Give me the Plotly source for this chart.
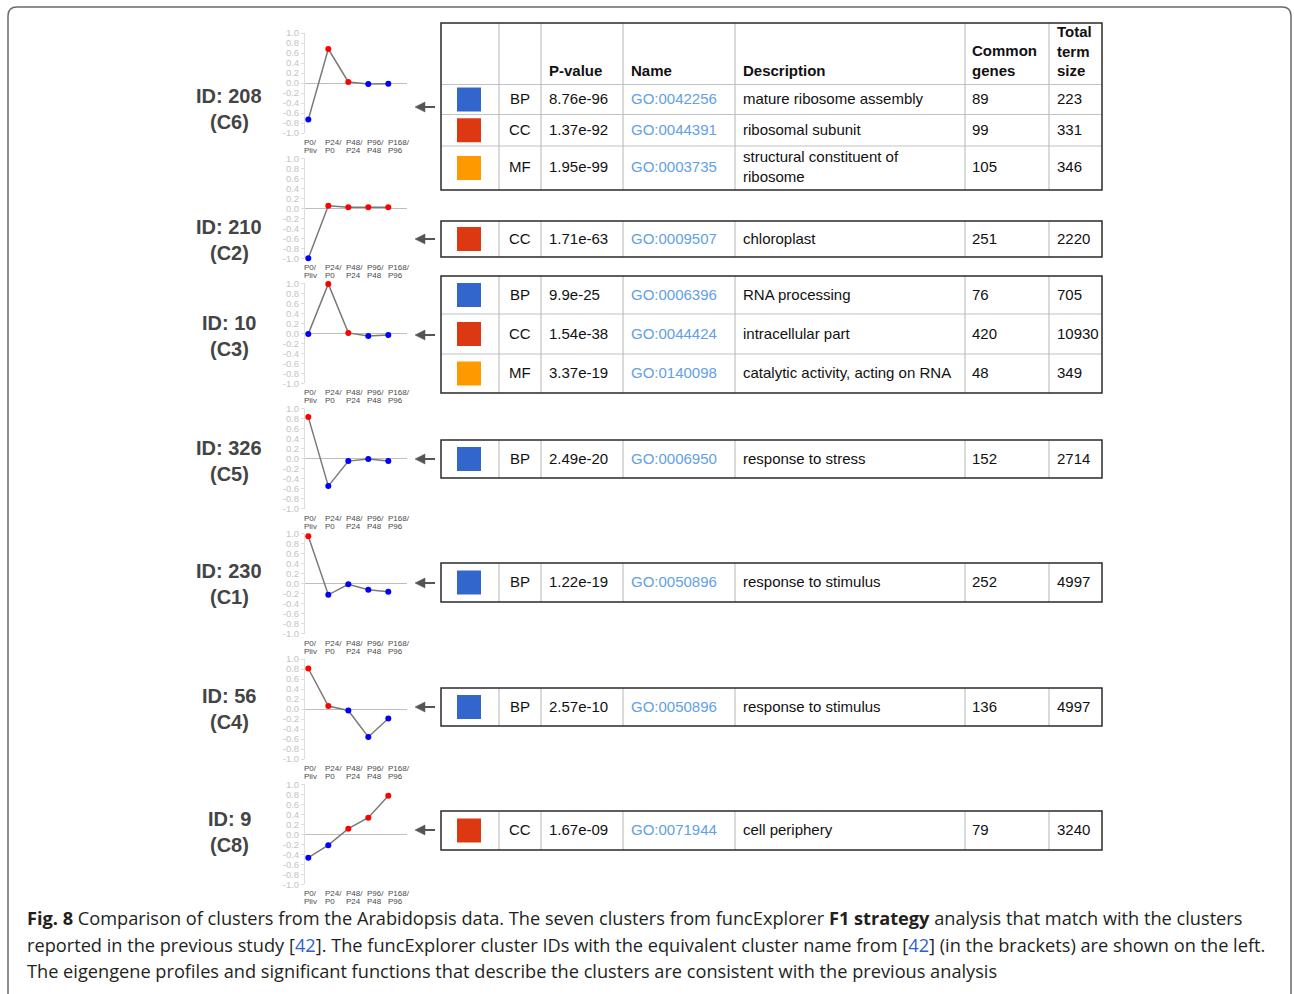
import plotly.graph_objects as go

# ---------------- data ----------------
cluster_ids = ["ID: 208", "ID: 210", "ID: 10", "ID: 326", "ID: 230", "ID: 56", "ID: 9"]
cluster_names = ["(C6)", "(C2)", "(C3)", "(C5)", "(C1)", "(C4)", "(C8)"]

time_top = ["P0/", "P24/", "P48/", "P96/", "P168/"]
time_bottom = ["Pliv", "P0", "P24", "P48", "P96"]

# eigengene profiles, one per cluster
profile_208 = [-0.73, 0.68, 0.02, -0.02, -0.015]
profile_210 = [-1.0, 0.05, 0.02, 0.02, 0.02]
profile_10 = [-0.01, 0.99, 0.01, -0.05, -0.03]
profile_326 = [0.83, -0.55, -0.05, -0.01, -0.05]
profile_230 = [0.95, -0.22, -0.01, -0.12, -0.16]
profile_56 = [0.81, 0.06, -0.03, -0.56, -0.19]
profile_9 = [-0.47, -0.22, 0.11, 0.33, 0.77]
profiles = [profile_208, profile_210, profile_10, profile_326, profile_230, profile_56, profile_9]

y_ticks = [1.0, 0.8, 0.6, 0.4, 0.2, 0.0, -0.2, -0.4, -0.6, -0.8, -1.0]

# enriched GO terms (row -> cluster index)
row_cluster = [0, 0, 0, 1, 2, 2, 2, 3, 4, 5, 6]
row_source = ["BP", "CC", "MF", "CC", "BP", "CC", "MF", "BP", "BP", "BP", "CC"]
row_pvalue = ["8.76e-96", "1.37e-92", "1.95e-99", "1.71e-63", "9.9e-25", "1.54e-38",
              "3.37e-19", "2.49e-20", "1.22e-19", "2.57e-10", "1.67e-09"]
row_term = ["GO:0042256", "GO:0044391", "GO:0003735", "GO:0009507", "GO:0006396",
            "GO:0044424", "GO:0140098", "GO:0006950", "GO:0050896", "GO:0050896",
            "GO:0071944"]
row_desc = ["mature ribosome assembly", "ribosomal subunit",
            "structural constituent of<br>ribosome", "chloroplast", "RNA processing",
            "intracellular part", "catalytic activity, acting on RNA",
            "response to stress", "response to stimulus", "response to stimulus",
            "cell periphery"]
row_common = [89, 99, 105, 251, 76, 420, 48, 152, 252, 136, 79]
row_total = [223, 331, 346, 2220, 705, 10930, 349, 2714, 4997, 4997, 3240]

header_labels = ["P-value", "Name", "Description", "Common<br>genes", "Total<br>term<br>size"]

source_colors = {"BP": "#3366cc", "CC": "#dc3912", "MF": "#ff9900"}

caption_lines = [
    "<b>Fig. 8</b> Comparison of clusters from the Arabidopsis data. The seven clusters from "
    "funcExplorer <b>F1 strategy</b> analysis that match with the clusters",
    "reported in the previous study [<span style='color:#2f5fd0'>42</span>]. The funcExplorer "
    "cluster IDs with the equivalent cluster name from [<span style='color:#2f5fd0'>42</span>] "
    "(in the brackets) are shown on the left.",
    "The eigengene profiles and significant functions that describe the clusters are "
    "consistent with the previous analysis",
]

# ---------------- layout helpers (pixel -> paper) ----------------
W, H = 1294, 994


def X(p):
    return p / W


def Y(p):
    return 1 - p / H


FONT = "Liberation Sans, Arial, Helvetica, sans-serif"
CAPTION_FONT = "Open Sans, sans-serif"

fig = go.Figure()
shapes = []
annotations = []

# ---------------- mini profile charts ----------------
chart_top = 33.0
chart_step = 125.2
chart_h = 100.0
x_left, x_right = 305, 407

for i, vals in enumerate(profiles):
    n = "" if i == 0 else str(i + 1)
    top = chart_top + i * chart_step
    bottom = top + chart_h
    colors = ["#ff0000" if v > 0 else "#0000ff" for v in vals]
    fig.add_trace(go.Scatter(
        x=list(range(len(vals))), y=vals, mode="lines+markers",
        line=dict(color="#7a7a7a", width=1.5),
        marker=dict(color=colors, size=6),
        xaxis="x" + n, yaxis="y" + n, cliponaxis=False,
        showlegend=False, hoverinfo="skip",
    ))
    fig.update_layout(**{
        "xaxis" + n: dict(domain=[X(x_left), X(x_right)], range=[-0.165, 4.935],
                          anchor="y" + n, visible=False, fixedrange=True,
                          automargin=False),
        "yaxis" + n: dict(domain=[Y(bottom), Y(top)], range=[-1.0, 1.0],
                          anchor="x" + n, tickvals=y_ticks,
                          ticktext=[f"{t:.1f}" for t in y_ticks],
                          tickfont=dict(family=FONT, size=9.5, color="#c4c4c4"),
                          ticks="outside", ticklen=3, tickcolor="#dddddd",
                          showline=True, linecolor="#dddddd", linewidth=1,
                          showgrid=False, zeroline=True, zerolinecolor="#bdbdbd",
                          zerolinewidth=1, fixedrange=True, automargin=False),
    })
    # time-point labels under each chart
    for j in range(len(time_top)):
        lx = 302 + 21.1 * j
        for k, txt in enumerate((time_top[j], time_bottom[j])):
            annotations.append(dict(
                x=X(lx), y=Y(bottom + 9.5 + 8 * k), xref="paper", yref="paper",
                text=txt, showarrow=False, xanchor="left", yanchor="middle",
                font=dict(family=FONT, size=8, color="#4a4a4a"),
            ))

# ---------------- tables ----------------
col_x = [441, 499, 541, 623, 735, 965, 1049, 1102]
table_rows = [
    [84.5, 114.5, 146, 190],
    [221, 257],
    [276, 314, 354, 393],
    [440, 478],
    [563, 602],
    [688, 726],
    [811, 850],
]
header_top = 23
header_x = [547, 629, 741, 970, 1055]
text_x = dict(pvalue=547, term=629, desc=741, common=970, total=1055)

row_centers = []
for t, bounds in enumerate(table_rows):
    top = header_top if t == 0 else bounds[0]
    bot = bounds[-1]
    # inner column lines
    for cx in col_x[1:-1]:
        shapes.append(dict(type="line", xref="paper", yref="paper",
                           x0=X(cx), x1=X(cx), y0=Y(top), y1=Y(bot),
                           line=dict(color="#c2c2c2", width=1.2)))
    # inner row lines
    inner = bounds[:-1] if t == 0 else bounds[1:-1]
    for ry in inner:
        shapes.append(dict(type="line", xref="paper", yref="paper",
                           x0=X(col_x[0]), x1=X(col_x[-1]), y0=Y(ry), y1=Y(ry),
                           line=dict(color="#c2c2c2", width=1.2)))
    # outer border
    shapes.append(dict(type="rect", xref="paper", yref="paper",
                       x0=X(col_x[0]), x1=X(col_x[-1]), y0=Y(bot), y1=Y(top),
                       line=dict(color="#2a2a2a", width=1.5)))
    for a, b in zip(bounds[:-1], bounds[1:]):
        row_centers.append((a + b) / 2)

# header of the first table
for hx, lab in zip(header_x, header_labels):
    annotations.append(dict(
        x=X(hx), y=Y(81), xref="paper", yref="paper", text="<b>" + lab + "</b>",
        showarrow=False, xanchor="left", yanchor="bottom", align="left",
        font=dict(family=FONT, size=15, color="#111111"),
    ))

# table rows
for r in range(len(row_source)):
    cy = row_centers[r]
    shapes.append(dict(type="rect", xref="paper", yref="paper",
                       x0=X(457), x1=X(481), y0=Y(cy + 12), y1=Y(cy - 12),
                       fillcolor=source_colors[row_source[r]], line=dict(width=0)))
    cells = [
        (520, "center", row_source[r], "#111111"),
        (text_x["pvalue"], "left", row_pvalue[r], "#111111"),
        (text_x["term"], "left", row_term[r], "#62a0e8"),
        (text_x["desc"], "left", row_desc[r], "#111111"),
        (text_x["common"], "left", str(row_common[r]), "#111111"),
        (text_x["total"], "left", str(row_total[r]), "#111111"),
    ]
    for cx, anchor, txt, col in cells:
        annotations.append(dict(
            x=X(cx), y=Y(cy - 1), xref="paper", yref="paper", text=txt,
            showarrow=False, xanchor=anchor, yanchor="middle", align="left",
            font=dict(family=FONT, size=15, color=col),
        ))

# arrows from each table towards its profile chart, and cluster labels
table_centers = [107, 239, 335, 459, 583, 707, 830]
label_centers = [109, 240, 336, 461, 584, 709, 832]
for t in range(len(cluster_ids)):
    cy = table_centers[t]
    shapes.append(dict(type="path", xref="paper", yref="paper",
                       path=f"M {X(415)},{Y(cy)} L {X(425)},{Y(cy - 5)} "
                            f"L {X(425)},{Y(cy + 5)} Z",
                       fillcolor="#555555", line=dict(color="#555555", width=0.5)))
    shapes.append(dict(type="line", xref="paper", yref="paper",
                       x0=X(424), x1=X(435), y0=Y(cy), y1=Y(cy),
                       line=dict(color="#555555", width=2)))
    ly = label_centers[t]
    for k, txt in enumerate((cluster_ids[t], cluster_names[t])):
        annotations.append(dict(
            x=X(229), y=Y(ly - 13 + 26 * k), xref="paper", yref="paper",
            text="<b>" + txt + "</b>", showarrow=False, xanchor="center",
            yanchor="middle", font=dict(family=FONT, size=20, color="#444444"),
        ))

# outer frame with rounded top corners
r = 9
shapes.append(dict(
    type="path", xref="paper", yref="paper",
    path=(f"M {X(8)},{Y(1000)} L {X(8)},{Y(7 + r)} Q {X(8)},{Y(7)} {X(8 + r)},{Y(7)} "
          f"L {X(1291 - r)},{Y(7)} Q {X(1291)},{Y(7)} {X(1291)},{Y(7 + r)} "
          f"L {X(1291)},{Y(1000)}"),
    line=dict(color="#6a6a6a", width=1.5),
))

# caption
for k, line in enumerate(caption_lines):
    annotations.append(dict(
        x=X(25), y=Y(918 + 26.5 * k), xref="paper", yref="paper", text=line,
        showarrow=False, xanchor="left", yanchor="middle", align="left",
        font=dict(family=CAPTION_FONT, size=18.2, color="#231f20"),
    ))

fig.update_layout(
    width=W, height=H,
    margin=dict(l=0, r=0, t=0, b=0, pad=0, autoexpand=False),
    paper_bgcolor="white", plot_bgcolor="rgba(0,0,0,0)",
    shapes=shapes, annotations=annotations, showlegend=False,
)

fig.write_html("out.html", config={"displayModeBar": False})
